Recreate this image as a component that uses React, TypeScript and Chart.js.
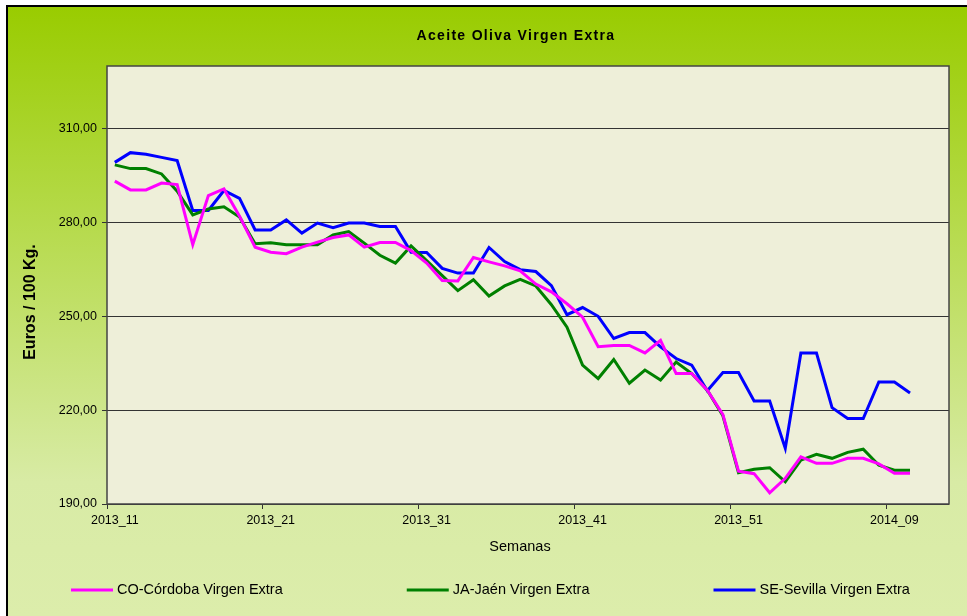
import React, { useEffect, useRef } from 'react';
import { Chart, registerables } from 'chart.js';

Chart.register(...registerables);

const FONT = '"Liberation Sans", Arial, Helvetica, sans-serif';

const chartTitle = 'Aceite Oliva Virgen Extra';
const yAxisTitle = 'Euros / 100 Kg.';
const xAxisTitle = 'Semanas';

const categories = [
  '2013_11', '2013_12', '2013_13', '2013_14', '2013_15', '2013_16', '2013_17', '2013_18', '2013_19', '2013_20',
  '2013_21', '2013_22', '2013_23', '2013_24', '2013_25', '2013_26', '2013_27', '2013_28', '2013_29', '2013_30',
  '2013_31', '2013_32', '2013_33', '2013_34', '2013_35', '2013_36', '2013_37', '2013_38', '2013_39', '2013_40',
  '2013_41', '2013_42', '2013_43', '2013_44', '2013_45', '2013_46', '2013_47', '2013_48', '2013_49', '2013_50',
  '2013_51', '2013_52', '2014_01', '2014_02', '2014_03', '2014_04', '2014_05', '2014_06', '2014_07', '2014_08',
  '2014_09', '2014_10', '2014_11', '2014_12',
];

const shownTicks = ['2013_11', '2013_21', '2013_31', '2013_41', '2013_51', '2014_09'];

const yTicks = [190, 220, 250, 280, 310];

const cordoba = [
  293.2, 290.4, 290.4, 292.6, 292.1, 272.9, 288.6, 290.7, 282.0, 272.1,
  270.5, 270.0, 272.1, 273.7, 275.2, 276.0, 272.1, 273.6, 273.6, 271.0,
  267.0, 261.4, 261.3, 268.8, 267.4, 266.1, 264.5, 260.3, 257.8, 254.0,
  249.7, 240.3, 240.7, 240.7, 238.3, 242.3, 231.7, 231.7, 226.4, 218.6,
  200.5, 199.7, 193.6, 198.2, 205.1, 203.0, 203.0, 204.6, 204.6, 202.8,
  199.8, 199.8,
];

const jaen = [
  298.4, 297.2, 297.2, 295.5, 290.0, 282.4, 284.3, 285.0, 281.7, 273.2,
  273.5, 272.9, 272.9, 272.9, 276.0, 277.1, 273.4, 269.5, 267.0, 272.5,
  267.8, 263.0, 258.2, 261.7, 256.5, 259.7, 261.8, 259.7, 253.7, 246.5,
  234.4, 230.1, 236.2, 228.6, 232.8, 229.6, 235.4, 231.7, 226.4, 218.2,
  200.0, 201.1, 201.6, 197.1, 204.0, 205.9, 204.6, 206.5, 207.5, 202.4,
  200.8, 200.8,
];

const sevilla = [
  299.2, 302.3, 301.8, 300.8, 299.8, 283.8, 283.8, 290.2, 287.7, 277.6,
  277.6, 280.8, 276.6, 279.8, 278.3, 279.8, 279.8, 278.7, 278.7, 270.5,
  270.4, 265.3, 263.8, 263.8, 272.0, 267.5, 264.9, 264.3, 259.8, 250.5,
  252.8, 250.0, 242.9, 244.8, 244.8, 240.2, 236.5, 234.4, 226.2, 232.0,
  232.0, 222.9, 222.9, 207.8, 238.3, 238.3, 220.8, 217.3, 217.3, 229.0,
  229.0, 225.5,
];

const seriesNames = ['CO-Córdoba Virgen Extra', 'JA-Jaén Virgen Extra', 'SE-Sevilla Virgen Extra'];
const seriesColors = ['#ff00ff', '#008000', '#0000ff'];

const decorPlugin = {
  id: 'decor',
  beforeDraw(chart: any) {
    const { ctx, width, height, chartArea: a } = chart;
    ctx.save();
    ctx.fillStyle = '#ffffff';
    ctx.fillRect(0, 0, width, height);
    const g = ctx.createLinearGradient(0, 6, 0, height);
    g.addColorStop(0, '#99cc00');
    g.addColorStop(0.78, '#d8eba5');
    g.addColorStop(1, '#dcedab');
    ctx.fillStyle = g;
    ctx.fillRect(7, 6, width, height);
    ctx.strokeStyle = '#000000';
    ctx.lineWidth = 2;
    ctx.beginPath();
    ctx.moveTo(7, height + 4);
    ctx.lineTo(7, 6);
    ctx.lineTo(width + 4, 6);
    ctx.stroke();
    ctx.fillStyle = '#eeefd9';
    ctx.fillRect(a.left, a.top, a.right - a.left, a.bottom - a.top);
    ctx.restore();
  },
  beforeDatasetsDraw(chart: any) {
    const { ctx, chartArea: a } = chart;
    ctx.save();
    ctx.strokeStyle = '#444444';
    ctx.lineWidth = 1.5;
    ctx.strokeRect(a.left, a.top, a.right - a.left, a.bottom - a.top);
    ctx.restore();
  },
  afterDraw(chart: any) {
    const { ctx } = chart;
    ctx.save();
    ctx.fillStyle = '#000000';
    ctx.textBaseline = 'middle';
    // chart title
    ctx.font = `bold 14px ${FONT}`;
    (ctx as any).letterSpacing = '1.3px';
    ctx.textAlign = 'center';
    ctx.fillText(chartTitle, 516, 36);
    (ctx as any).letterSpacing = '0px';
    // x axis title
    ctx.font = `14.5px ${FONT}`;
    ctx.fillText(xAxisTitle, 520, 547);
    // y axis title
    ctx.save();
    ctx.translate(31, 302);
    ctx.rotate(-Math.PI / 2);
    ctx.font = `bold 16px ${FONT}`;
    ctx.fillText(yAxisTitle, 0, 0);
    ctx.restore();
    // legend
    ctx.font = `14.5px ${FONT}`;
    ctx.textAlign = 'left';
    let x = 71;
    const y = 590;
    chart.data.datasets.forEach((ds: any) => {
      ctx.strokeStyle = ds.borderColor;
      ctx.lineWidth = 3;
      ctx.beginPath();
      ctx.moveTo(x, y);
      ctx.lineTo(x + 42, y);
      ctx.stroke();
      ctx.fillStyle = '#000000';
      ctx.fillText(ds.label, x + 46, y);
      x += 46 + ctx.measureText(ds.label).width + 124;
    });
    ctx.restore();
  },
};

export default function App() {
  const canvasRef = useRef<HTMLCanvasElement | null>(null);

  useEffect(() => {
    if (!canvasRef.current) return;
    Chart.defaults.font.family = FONT;
    const seriesData = [cordoba, jaen, sevilla];
    const chart = new Chart(canvasRef.current, {
      type: 'line',
      data: {
        labels: categories,
        datasets: seriesNames.map((name, i) => ({
          label: name,
          data: seriesData[i],
          borderColor: seriesColors[i],
          backgroundColor: seriesColors[i],
          borderWidth: 3,
          pointRadius: 0,
          tension: 0,
          fill: false,
        })),
      },
      options: {
        responsive: false,
        animation: false,
        events: [],
        layout: { padding: { left: 0, top: 66, right: 18, bottom: 82 } },
        plugins: {
          legend: { display: false },
          title: { display: false },
          tooltip: { enabled: false },
        },
        scales: {
          x: {
            type: 'category',
            offset: true,
            afterFit: (s: any) => { s.height = 30; },
            grid: {
              offset: true,
              drawOnChartArea: false,
              drawTicks: true,
              tickLength: 5,
              color: (c: any) =>
                c.index !== undefined && categories[c.index] !== undefined && shownTicks.includes(categories[c.index])
                  ? '#333333'
                  : 'rgba(0,0,0,0)',
            },
            border: { display: false },
            ticks: {
              autoSkip: false,
              maxRotation: 0,
              minRotation: 0,
              padding: 4,
              color: '#000000',
              font: { size: 12.5, family: FONT },
              callback: (_v: any, idx: number) => (shownTicks.includes(categories[idx]) ? categories[idx] : ''),
            },
          },
          y: {
            min: 190,
            max: 330,
            afterFit: (s: any) => { s.width = 107; },
            afterBuildTicks: (s: any) => { s.ticks = yTicks.map((v) => ({ value: v })); },
            grid: {
              color: '#333333',
              lineWidth: 1,
              tickLength: 5,
            },
            border: { display: false },
            ticks: {
              padding: 5,
              color: '#000000',
              font: { size: 12.5, family: FONT },
              callback: (v: any) => Number(v).toFixed(2).replace('.', ','),
            },
          },
        },
      },
      plugins: [decorPlugin],
    });
    return () => chart.destroy();
  }, []);

  return (
    <div style={{ position: 'absolute', left: 0, top: 0, width: 967, height: 616 }}>
      <canvas ref={canvasRef} width={967} height={616} style={{ display: 'block', width: 967, height: 616 }} />
    </div>
  );
}
